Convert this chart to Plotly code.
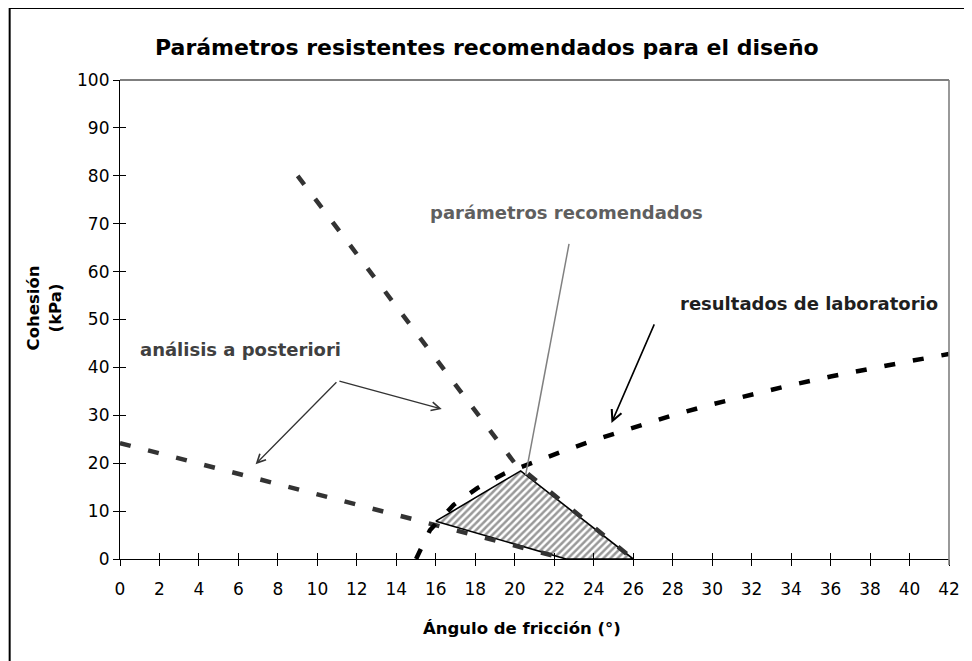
import plotly.graph_objects as go

# ---- data ----
phi_back_shallow = [0.0, 22.6]
c_back_shallow = [24.2, 0.0]

phi_back_steep = [9.0, 20.0, 26.0]
c_back_steep = [80.0, 20.0, 0.0]

phi_lab = [15.0, 15.7, 16.9, 18.1, 19.5, 21.0, 22.5, 24.0, 26.0, 28.0, 30.0, 32.0, 34.0, 36.0, 38.0, 40.0, 42.0]
c_lab = [0.0, 6.0, 11.3, 14.8, 17.9, 20.3, 22.6, 24.8, 27.5, 30.0, 32.3, 34.4, 36.3, 38.1, 39.8, 41.3, 42.8]

phi_rec = [16.0, 20.3, 26.0, 22.6, 16.0]
c_rec = [7.9, 18.4, 0.0, 0.0, 7.9]

x_ticks = list(range(0, 43, 2))
y_ticks = list(range(0, 101, 10))

title_text = "Parámetros resistentes recomendados para el diseño"
x_title = "Ángulo de fricción (°)"
y_title = "Cohesión<br>(kPa)"

FONT = "DejaVu Sans, Liberation Sans, Arial, sans-serif"

# page body margin of the html page shifts the figure by 8 px
OFF = 8
W, H = 972 - OFF, 661 - OFF
L, R, T, B = 112, 18, 72, 102
PW, PH = W - L - R, H - T - B


def px(x):  # screen x -> paper
    return (x - OFF - L) / PW


def py(y):  # screen y -> paper
    return (H - B - (y - OFF)) / PH


fig = go.Figure()

fig.add_trace(go.Scatter(
    x=phi_rec, y=c_rec, mode="lines", fill="toself",
    fillcolor="white",
    fillpattern=dict(shape="/", fgcolor="#333333", bgcolor="white", size=5, solidity=0.5),
    line=dict(color="black", width=1.6), showlegend=False, hoverinfo="skip"))

fig.add_trace(go.Scatter(
    x=phi_back_shallow, y=c_back_shallow, mode="lines",
    line=dict(color="#333333", width=4.5, dash="11px,18px"),
    showlegend=False, hoverinfo="skip"))

fig.add_trace(go.Scatter(
    x=phi_back_steep, y=c_back_steep, mode="lines",
    line=dict(color="#333333", width=4.5, dash="11px,18px"),
    showlegend=False, hoverinfo="skip"))

fig.add_trace(go.Scatter(
    x=phi_lab, y=c_lab, mode="lines",
    line=dict(color="#000000", width=4.5, dash="11px,18px"),
    showlegend=False, hoverinfo="skip"))

# empty trace to instantiate the overlay axes (inner half of crossing ticks)
fig.add_trace(go.Scatter(x=[None], y=[None], xaxis="x2", yaxis="y2",
                         showlegend=False, hoverinfo="skip"))

tickfont = dict(family=FONT, size=17, color="black")

fig.update_layout(
    width=W, height=H,
    margin=dict(l=L, r=R, t=T, b=B),
    paper_bgcolor="white", plot_bgcolor="white",
    font=dict(family=FONT, color="black"),
    xaxis=dict(range=[0, 42], tickvals=x_ticks, ticktext=[str(v) for v in x_ticks],
               ticks="outside", ticklen=6, tickwidth=1, tickcolor="black",
               showline=True, linecolor="black", linewidth=1.2,
               showgrid=False, zeroline=False, tickfont=tickfont,
               ticklabelstandoff=8, fixedrange=True),
    yaxis=dict(range=[0, 100], tickvals=y_ticks, ticktext=[str(v) for v in y_ticks],
               ticks="outside", ticklen=6, tickwidth=1, tickcolor="black",
               showline=True, linecolor="black", linewidth=1.2,
               showgrid=False, zeroline=False, tickfont=tickfont, fixedrange=True),
    xaxis2=dict(range=[0, 42], tickvals=x_ticks, ticks="inside", ticklen=6, tickwidth=1,
                tickcolor="black", showticklabels=False, showline=False, showgrid=False,
                zeroline=False, overlaying="x", anchor="y2", side="bottom", fixedrange=True),
    yaxis2=dict(range=[0, 100], tickvals=y_ticks, ticks="inside", ticklen=6, tickwidth=1,
                tickcolor="black", showticklabels=False, showline=False, showgrid=False,
                zeroline=False, overlaying="y", anchor="x2", side="left", fixedrange=True),
)

shapes = [
    # top border of plot area (at 100) and right border (grey)
    dict(type="line", xref="paper", yref="paper", x0=0, x1=1, y0=1, y1=1,
         line=dict(color="black", width=1.2)),
    dict(type="line", xref="paper", yref="paper", x0=1, x1=1, y0=1, y1=py(565),
         line=dict(color="#808080", width=1.6)),
    # outer chart frame (top and left)
    dict(type="line", xref="paper", yref="paper", x0=px(9), x1=px(980), y0=py(8), y1=py(8),
         line=dict(color="black", width=2)),
    dict(type="line", xref="paper", yref="paper", x0=px(9), x1=px(9), y0=py(8), y1=py(670),
         line=dict(color="black", width=2)),
    # leader line for "parámetros recomendados"
    dict(type="line", xref="x", yref="y", x0=22.75, y0=65.8, x1=20.55, y1=17.5,
         line=dict(color="#808080", width=1.5)),
]
fig.update_layout(shapes=shapes)

annos = [
    dict(text="<b>" + title_text + "</b>", xref="paper", yref="paper", x=px(489), y=py(47),
         showarrow=False, font=dict(family=FONT, size=22, color="black"),
         xanchor="center", yanchor="middle"),
    dict(text="<b>" + x_title + "</b>", xref="paper", yref="paper", x=px(524), y=py(628),
         showarrow=False, font=dict(family=FONT, size=16.5, color="black"),
         xanchor="center", yanchor="middle"),
    dict(text="<b>" + y_title + "</b>", xref="paper", yref="paper", x=px(44), y=py(308),
         showarrow=False, textangle=-90, font=dict(family=FONT, size=16.5, color="black"),
         xanchor="center", yanchor="middle"),
    dict(text="<b>parámetros recomendados</b>", x=22.6, y=72.4, xref="x", yref="y",
         showarrow=False, font=dict(family=FONT, size=18, color="#5f5f5f")),
    dict(text="<b>resultados de laboratorio</b>", x=34.9, y=53.4, xref="x", yref="y",
         showarrow=False, font=dict(family=FONT, size=18, color="#1f1f1f")),
    dict(text="<b>análisis a posteriori</b>", x=6.1, y=43.8, xref="x", yref="y",
         showarrow=False, font=dict(family=FONT, size=18, color="#404040")),
    # arrows
    dict(text="", x=6.87, y=19.8, ax=11.04, ay=37.2, xref="x", yref="y", axref="x", ayref="y",
         showarrow=True, arrowhead=5, arrowsize=1.3, arrowwidth=1.3, arrowcolor="#333333"),
    dict(text="", x=16.3, y=31.3, ax=11.04, ay=37.2, xref="x", yref="y", axref="x", ayref="y",
         showarrow=True, arrowhead=5, arrowsize=1.3, arrowwidth=1.3, arrowcolor="#333333"),
    dict(text="", x=24.9, y=28.4, ax=27.1, ay=49.3, xref="x", yref="y", axref="x", ayref="y",
         showarrow=True, arrowhead=5, arrowsize=1.3, arrowwidth=1.6, arrowcolor="#000000"),
]
fig.update_layout(annotations=annos)

fig.write_html("out.html")
